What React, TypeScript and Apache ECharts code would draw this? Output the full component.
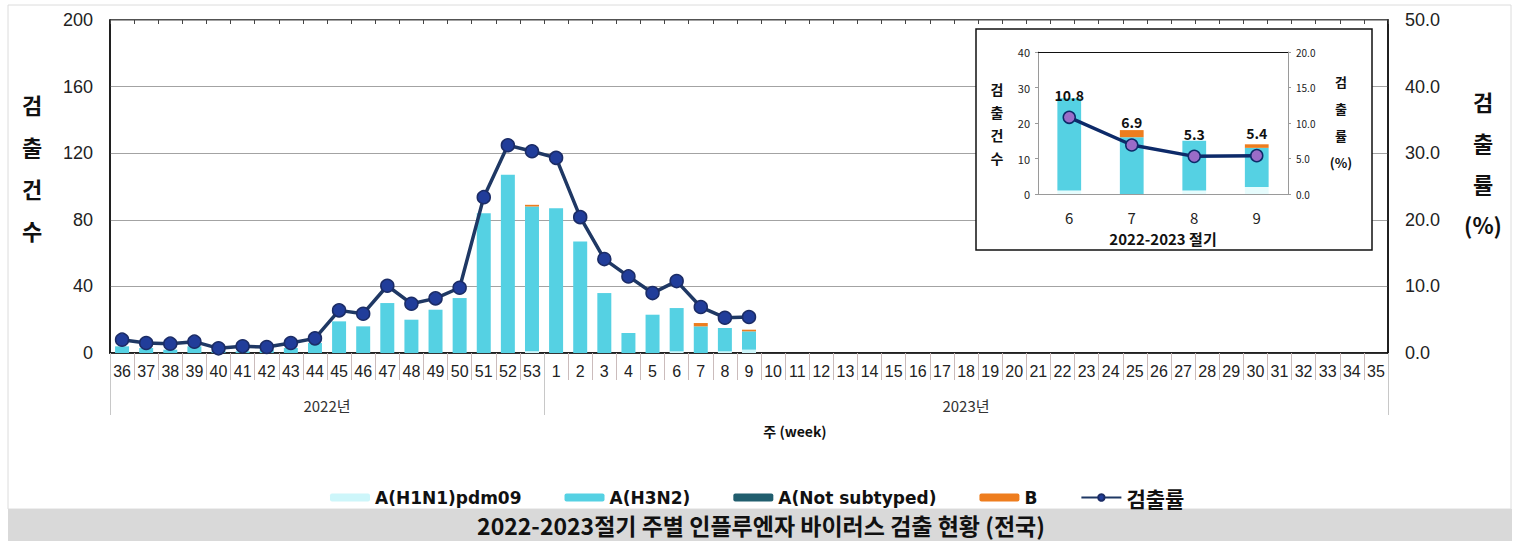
import React, { useEffect, useRef } from "react";
import * as echarts from "echarts";

// Week labels of the 2022-2023 season (week 36 of 2022 to week 35 of 2023)
const weeks = [
  "36", "37", "38", "39", "40", "41", "42", "43", "44", "45", "46", "47", "48", "49", "50", "51", "52", "53",
  "1", "2", "3", "4", "5", "6", "7", "8", "9", "10", "11", "12", "13", "14", "15", "16", "17", "18",
  "19", "20", "21", "22", "23", "24", "25", "26", "27", "28", "29", "30", "31", "32", "33", "34", "35",
];

// Detected counts per subtype, week 36 through week 9 (later weeks have no data yet)
const h1n1Counts = [0, 0, 0, 0, 0, 0, 0, 0, 0, 0, 0, 0, 0, 0, 0, 0, 0, 1, 0, 0, 0, 0, 0, 1, 0, 1, 2];
const h3n2Counts = [4, 3, 2, 4, 1, 1, 2, 3, 6, 19, 16, 30, 20, 26, 33, 84, 107, 87, 87, 67, 36, 12, 23, 26, 16, 14, 11];
const notSubtypedCounts = [0, 0, 0, 0, 0, 0, 0, 0, 0, 0, 0, 0, 0, 0, 0, 0, 0, 0, 0, 0, 0, 0, 0, 0, 0, 0, 0];
const bCounts = [0, 0, 0, 0, 0, 0, 0, 0, 0, 0, 0, 0, 0, 0, 0, 0, 0, 1, 0, 0, 0, 0, 0, 0, 2, 0, 1];

// Detection rate (%)
const detectionRates = [
  2.0, 1.5, 1.4, 1.7, 0.7, 1.0, 0.9, 1.5, 2.2, 6.4, 5.9, 10.1, 7.4, 8.2, 9.8, 23.4, 31.2, 30.3,
  29.3, 20.4, 14.1, 11.5, 9.0, 10.8, 6.9, 5.3, 5.4,
];

// Year groups under the week labels: [label, first index, end index]
const yearGroups: [string, number, number][] = [
  ["2022년", 0, 18],
  ["2023년", 18, 53],
];

// Weeks shown in the close-up panel
const insetWeeks = ["6", "7", "8", "9"];

const legendNames = ["A(H1N1)pdm09", "A(H3N2)", "A(Not subtyped)", "B", "검출률"];

const KR = "'Noto Sans CJK KR', 'Noto Sans', sans-serif";
const LAT = "'Liberation Sans', Arial, 'Noto Sans CJK KR', sans-serif";
const LEG = "'DejaVu Sans', 'Noto Sans CJK KR', sans-serif";

const colors = {
  h1n1: "#CDF6FA",
  h3n2: "#55D1E3",
  notSub: "#215E6E",
  b: "#EE7D1E",
  line: "#1F3864",
  marker: "#213D9A",
  insetMarker: "#9A6CC8",
};

const pad = (arr: number[]) => weeks.map((_, i) => (i < arr.length ? arr[i] : null));
const pick = (arr: number[]) => insetWeeks.map((w) => arr[weeks.indexOf(w)]);

export default function App() {
  const ref = useRef<HTMLDivElement>(null);

  useEffect(() => {
    if (!ref.current) return;
    const chart = echarts.init(ref.current, undefined, { renderer: "svg" });

    const groupTicks = [0, ...yearGroups.map((g) => g[2])];
    const groupCenters = yearGroups.map((g) => (g[1] + g[2]) / 2);

    const option: any = {
      animation: false,
      textStyle: { fontFamily: LAT },
      grid: [
        { left: 110, right: 135, top: 20, height: 333, show: true, borderColor: "#1a1a1a", borderWidth: 1.5 },
        { left: 1038, top: 52, width: 250, height: 142 },
      ],
      legend: {
        left: 325,
        top: 482,
        itemWidth: 40,
        itemHeight: 8,
        itemGap: 43,
        data: legendNames,
        formatter: (name: string) => (name === "검출률" ? `{k|${name}}` : name),
        textStyle: {
          fontFamily: LEG,
          fontWeight: "bold",
          fontSize: 17,
          color: "#111",
          rich: { k: { fontFamily: KR, fontWeight: "bold", fontSize: 21, color: "#111" } },
        },
      },
      xAxis: [
        {
          type: "category",
          gridIndex: 0,
          data: weeks,
          axisLine: { onZero: false, lineStyle: { color: "#111", width: 1.5 } },
          axisTick: { show: true, interval: 0, length: 27, lineStyle: { color: "#cbbcbc" } },
          axisLabel: { interval: 0, fontSize: 16, color: "#222", margin: 10, fontFamily: LAT },
        },
        {
          type: "value",
          gridIndex: 0,
          position: "bottom",
          min: 0,
          max: weeks.length,
          axisLine: { show: false, onZero: false },
          splitLine: { show: false },
          axisTick: { show: true, customValues: groupTicks, length: 62, lineStyle: { color: "#c8c8c8" } },
          axisLabel: {
            customValues: groupCenters,
            formatter: (v: number) => {
              const g = yearGroups.find((y) => (y[1] + y[2]) / 2 === v);
              return g ? g[0] : "";
            },
            margin: 45,
            fontSize: 15,
            color: "#333",
            fontFamily: KR,
          },
        },
        {
          type: "category",
          gridIndex: 0,
          data: weeks,
          axisLine: { show: false, onZero: false },
          axisLabel: { show: false },
          axisTick: { show: true, inside: true, interval: 0, length: 4, lineStyle: { color: "#444" } },
        },
        {
          type: "category",
          gridIndex: 1,
          data: insetWeeks,
          z: 3,
          name: "2022-2023 절기",
          nameLocation: "middle",
          nameGap: 37,
          nameTextStyle: { fontFamily: KR, fontWeight: "bold", fontSize: 15, color: "#111" },
          axisLine: { onZero: false, lineStyle: { color: "#9a9a9a", width: 1 } },
          axisTick: { show: false },
          axisLabel: { fontSize: 15, color: "#222", margin: 16, fontFamily: KR },
        },
        {
          type: "category",
          gridIndex: 1,
          data: insetWeeks,
          position: "top",
          z: 3,
          axisLine: { onZero: false, lineStyle: { color: "#111", width: 1.2 } },
          axisTick: { show: false },
          axisLabel: { show: false },
        },
      ],
      yAxis: [
        {
          type: "value",
          gridIndex: 0,
          min: 0,
          max: 200,
          interval: 40,
          axisLine: { show: true, onZero: false, lineStyle: { color: "#111", width: 1.5 } },
          axisTick: { show: false },
          splitLine: { lineStyle: { color: "#a3a3a3", width: 1 } },
          axisLabel: { fontSize: 18, color: "#222", margin: 17, fontFamily: LAT },
        },
        {
          type: "value",
          gridIndex: 0,
          position: "right",
          min: 0,
          max: 50,
          interval: 10,
          axisLine: { show: true, onZero: false, lineStyle: { color: "#111", width: 1.5 } },
          axisTick: { show: false },
          splitLine: { show: false },
          axisLabel: { fontSize: 18, color: "#222", margin: 17, fontFamily: LAT, formatter: (v: number) => v.toFixed(1) },
        },
        {
          type: "value",
          gridIndex: 1,
          min: 0,
          max: 40,
          interval: 10,
          z: 3,
          axisLine: { show: true, onZero: false, lineStyle: { color: "#9a9a9a" } },
          axisTick: { show: true, length: 3, lineStyle: { color: "#9a9a9a" } },
          splitLine: { show: false },
          axisLabel: { fontSize: 11, color: "#222", margin: 8, fontFamily: KR },
        },
        {
          type: "value",
          gridIndex: 1,
          position: "right",
          min: 0,
          max: 20,
          interval: 5,
          z: 3,
          axisLine: { show: true, onZero: false, lineStyle: { color: "#9a9a9a" } },
          axisTick: { show: true, length: 3, lineStyle: { color: "#9a9a9a" } },
          splitLine: { show: false },
          axisLabel: { fontSize: 10, color: "#222", margin: 8, fontFamily: KR, formatter: (v: number) => v.toFixed(1) },
        },
      ],
      series: [
        // weekly counts, stacked by subtype
        { name: "A(H1N1)pdm09", type: "bar", stack: "main", xAxisIndex: 0, yAxisIndex: 0, barWidth: "58%", data: pad(h1n1Counts), itemStyle: { color: colors.h1n1 } },
        { name: "A(H3N2)", type: "bar", stack: "main", xAxisIndex: 0, yAxisIndex: 0, barWidth: "58%", data: pad(h3n2Counts), itemStyle: { color: colors.h3n2 } },
        { name: "A(Not subtyped)", type: "bar", stack: "main", xAxisIndex: 0, yAxisIndex: 0, barWidth: "58%", data: pad(notSubtypedCounts), itemStyle: { color: colors.notSub } },
        { name: "B", type: "bar", stack: "main", xAxisIndex: 0, yAxisIndex: 0, barWidth: "58%", data: pad(bCounts), itemStyle: { color: colors.b } },
        {
          name: "검출률",
          type: "line",
          xAxisIndex: 0,
          yAxisIndex: 1,
          data: pad(detectionRates),
          symbol: "circle",
          symbolSize: 13,
          lineStyle: { color: colors.line, width: 3.5 },
          itemStyle: { color: colors.marker, borderColor: "#1B2C66", borderWidth: 1.5 },
          z: 4,
        },
        // close-up of the latest weeks
        { name: "A(H1N1)pdm09", type: "bar", stack: "inset", xAxisIndex: 3, yAxisIndex: 2, barWidth: "38%", data: pick(h1n1Counts), itemStyle: { color: "#E6FCFD" } },
        { name: "A(H3N2)", type: "bar", stack: "inset", xAxisIndex: 3, yAxisIndex: 2, barWidth: "38%", data: pick(h3n2Counts), itemStyle: { color: colors.h3n2 } },
        { name: "A(Not subtyped)", type: "bar", stack: "inset", xAxisIndex: 3, yAxisIndex: 2, barWidth: "38%", data: pick(notSubtypedCounts), itemStyle: { color: colors.notSub } },
        { name: "B", type: "bar", stack: "inset", xAxisIndex: 3, yAxisIndex: 2, barWidth: "38%", data: pick(bCounts), itemStyle: { color: colors.b } },
        {
          name: "검출률",
          type: "line",
          xAxisIndex: 3,
          yAxisIndex: 3,
          data: pick(detectionRates),
          symbol: "circle",
          symbolSize: 12,
          lineStyle: { color: "#0D2A69", width: 3.5 },
          itemStyle: { color: colors.insetMarker, borderColor: "#0D2A69", borderWidth: 1.5 },
          label: {
            show: true,
            position: "top",
            distance: 9,
            formatter: (p: any) => Number(p.value).toFixed(1),
            fontFamily: KR,
            fontWeight: "bold",
            fontSize: 14,
            color: "#111",
          },
          z: 4,
        },
      ],
      graphic: [
        { type: "rect", z: 0, shape: { x: 8, y: 5, width: 1503, height: 504 }, style: { fill: "none", stroke: "#dcdcdc", lineWidth: 1 } },
        { type: "rect", z: 0, shape: { x: 8, y: 509, width: 1504, height: 32 }, style: { fill: "#D9D9D9" } },
        {
          type: "text",
          x: 761,
          y: 525,
          style: { text: "2022-2023절기 주별 인플루엔자 바이러스 검출 현황 (전국)", fontFamily: KR, fontWeight: "bold", fontSize: 23, lineHeight: 26, fill: "#111", align: "center", verticalAlign: "middle" },
        },
        {
          type: "text",
          x: 32,
          y: 167,
          style: { text: "검\n출\n건\n수", fontFamily: KR, fontWeight: "bold", fontSize: 22, lineHeight: 42, fill: "#111", align: "center", verticalAlign: "middle" },
        },
        {
          type: "text",
          x: 1483,
          y: 162,
          style: { text: "검\n출\n률\n(%)", fontFamily: KR, fontWeight: "bold", fontSize: 22, lineHeight: 41, fill: "#111", align: "center", verticalAlign: "middle" },
        },
        {
          type: "text",
          x: 795,
          y: 431,
          style: { text: "주 (week)", fontFamily: KR, fontWeight: "bold", fontSize: 14, fill: "#111", align: "center", verticalAlign: "middle" },
        },
        // close-up panel frame and its titles
        { type: "rect", z: 1, shape: { x: 976, y: 29, width: 396, height: 221 }, style: { fill: "#fff", stroke: "#111", lineWidth: 1.5 } },
        {
          type: "text",
          z: 3,
          x: 997,
          y: 123,
          style: { text: "검\n출\n건\n수", fontFamily: KR, fontWeight: "bold", fontSize: 14, lineHeight: 23, fill: "#111", align: "center", verticalAlign: "middle" },
        },
        {
          type: "text",
          z: 3,
          x: 1341,
          y: 122,
          style: { text: "검\n출\n률\n(%)", fontFamily: KR, fontWeight: "bold", fontSize: 13, lineHeight: 27, fill: "#111", align: "center", verticalAlign: "middle" },
        },
      ],
    };

    chart.setOption(option);
    return () => chart.dispose();
  }, []);

  return <div ref={ref} style={{ position: "fixed", left: 0, top: 0, width: 1523, height: 541, background: "#fff" }} />;
}
